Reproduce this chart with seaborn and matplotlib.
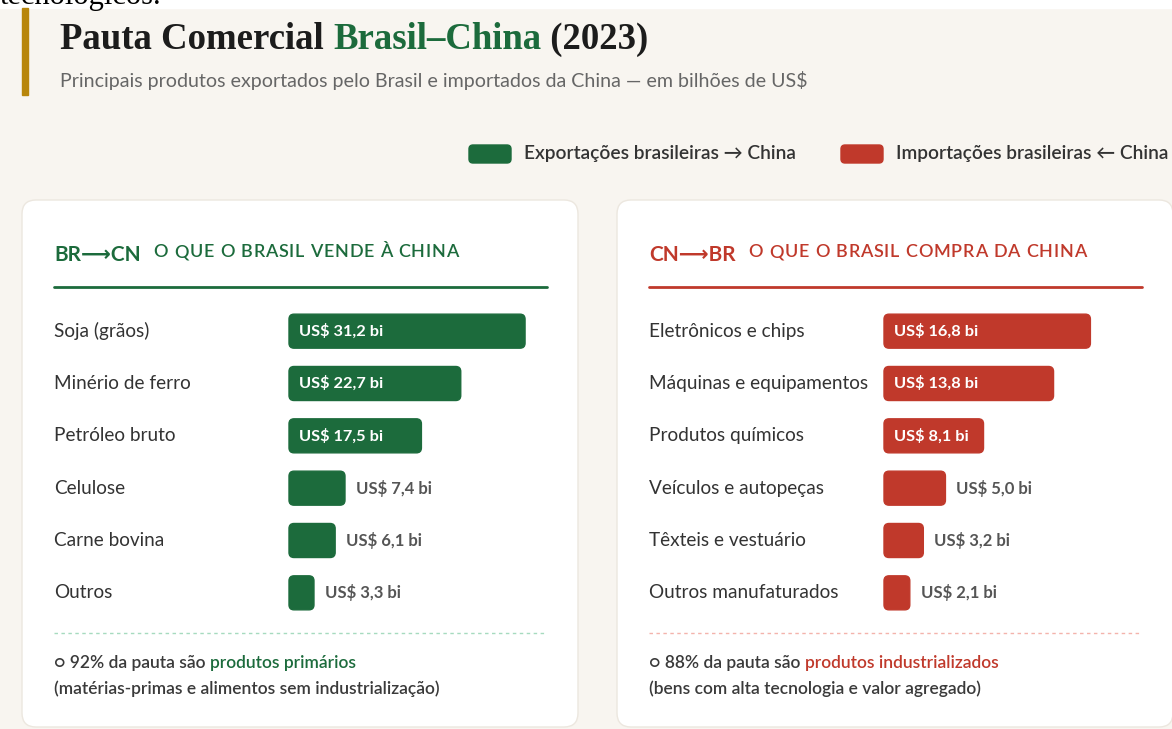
import matplotlib
matplotlib.use("Agg")
import matplotlib.pyplot as plt
import seaborn as sns
from matplotlib.patches import FancyBboxPatch, Rectangle
from matplotlib.lines import Line2D
from matplotlib.transforms import Affine2D

W, H = 1172, 729

# data (US$ bi, 2023)
export_items = ["Soja (grãos)", "Minério de ferro", "Petróleo bruto", "Celulose", "Carne bovina", "Outros"]
export_values = [31.2, 22.7, 17.5, 7.4, 6.1, 3.3]
import_items = ["Eletrônicos e chips", "Máquinas e equipamentos", "Produtos químicos",
                "Veículos e autopeças", "Têxteis e vestuário", "Outros manufaturados"]
import_values = [16.8, 13.8, 8.1, 5.0, 3.2, 2.1]

GREEN = "#1c6b3c"
RED = "#c0392b"
GOLD = "#b8860b"
BG = "#f8f5f0"
DARK = "#1c1c1c"
GRAY = "#555555"
SANS = ["Lato", "DejaVu Sans"]
SERIF = ["Liberation Serif", "DejaVu Serif"]

sns.set_theme(style="white")
plt.rcParams["font.family"] = SANS

fig = plt.figure(figsize=(W / 100, H / 100), dpi=100)
fig.patch.set_facecolor(BG)
# pixel coords, origin top-left
PX = Affine2D().scale(1 / W, -1 / H).translate(0, 1) + fig.transFigure
renderer = fig.canvas.get_renderer()


def txt(x, y, s, **kw):
    kw.setdefault("va", "center")
    t = fig.text(x, y, s, transform=PX, **kw)
    return t


def right_edge(t):
    bb = t.get_window_extent(renderer)
    return PX.inverted().transform([[bb.x1, bb.y0]])[0][0]


def chain(x, y, parts, **kw):
    for s, color in parts:
        t = txt(x, y, s, color=color, **kw)
        x = right_edge(t)
    return x


def spaced(x, y, s, spacing, **kw):
    for ch in s:
        t = txt(x, y, ch, **kw)
        x = right_edge(t) + spacing
    return x


# white strip at top with cut-off text from page above
fig.add_artist(Rectangle((0, 0), W, 8, transform=PX, color="white", zorder=0))
txt(0, 4, "tecnológicos.", family=SERIF, fontsize=22, color="black", va="baseline")

# header
fig.add_artist(Rectangle((22, 8), 6, 87, transform=PX, color=GOLD))
chain(60, 49, [("Pauta Comercial ", DARK), ("Brasil–China", GREEN), (" (2023)", DARK)],
      family=SERIF, fontsize=26.5, fontweight="bold", va="baseline")
txt(60, 80, "Principais produtos exportados pelo Brasil e importados da China — em bilhões de US$",
    fontsize=14.1, color="#666666")

# legend
for x0, color, label in [(469, GREEN, "Exportações brasileiras → China"),
                         (841, RED, "Importações brasileiras ← China")]:
    fig.add_artist(FancyBboxPatch((x0, 145), 42, 18, boxstyle="round,pad=0,rounding_size=4",
                                  transform=PX, color=color))
    txt(x0 + 55, 154, label, fontsize=13.8, fontweight="semibold", color="#333333")

panels = [
    dict(x=22, items=export_items, values=export_values, color=GREEN, light="#a6dbbf",
         tag="BR⟶CN", head="O QUE O BRASIL VENDE À CHINA", xmax=34.1, inside_min=10,
         note=("○ 92% da pauta são ", "produtos primários"),
         note2="(matérias-primas e alimentos sem industrialização)"),
    dict(x=617, items=import_items, values=import_values, color=RED, light="#f4b3ac",
         tag="CN⟶BR", head="O QUE O BRASIL COMPRA DA CHINA", xmax=21.0, inside_min=7,
         note=("○ 88% da pauta são ", "produtos industrializados"),
         note2="(bens com alta tecnologia e valor agregado)"),
]

for p in panels:
    px0 = p["x"]
    fig.add_artist(FancyBboxPatch((px0, 200), 556, 527, boxstyle="round,pad=0,rounding_size=14",
                                  transform=PX, facecolor="white", edgecolor="#ece7df", lw=1))
    lx = px0 + 32
    tag_end = txt(lx, 255, p["tag"], fontsize=15, fontweight="bold", color=p["color"])
    spaced(right_edge(tag_end) + 13, 252, p["head"], 0.8, fontsize=13,
           fontweight="semibold", color=p["color"])
    fig.add_artist(Line2D([lx, lx + 493], [287, 287], transform=PX, color=p["color"], lw=2))

    # bars
    bx = px0 + 267
    ax = fig.add_axes([bx / W, 1 - 619 / H, 258 / W, 314 / H])
    sns.barplot(x=p["values"], y=p["items"], orient="h", ax=ax, color=p["color"],
                width=0.65, saturation=1)
    ax.set_xlim(0, p["xmax"])
    ax.set_ylim(5.5, -0.5)
    ax.set_axis_off()
    ax.patch.set_alpha(0)

    for bar, item, val in zip(list(ax.patches), p["items"], p["values"]):
        (x0, y0), (x1, y1) = PX.inverted().transform(
            ax.transData.transform([[bar.get_x(), bar.get_y()],
                                    [bar.get_x() + bar.get_width(), bar.get_y() + bar.get_height()]]))
        top, bot = min(y0, y1), max(y0, y1)
        bar.set_visible(False)
        fig.add_artist(FancyBboxPatch((x0, top), x1 - x0, bot - top,
                                      boxstyle="round,pad=0,rounding_size=5",
                                      transform=PX, color=p["color"]))
        yc = (top + bot) / 2
        txt(lx, yc, item, fontsize=13.7, color="#333333")
        label = f"US$ {val:.1f} bi".replace(".", ",")
        if val >= p["inside_min"]:
            txt(x0 + 10, yc, label, fontsize=11.8, fontweight="bold", color="white")
        else:
            txt(x1 + 11, yc, label, fontsize=12, fontweight="bold", color=GRAY)

    # footer
    fig.add_artist(Line2D([lx, lx + 493], [633, 633], transform=PX, color=p["light"],
                          lw=1, dashes=(2.5, 2.5)))
    chain(lx, 663, [(p["note"][0], "#3a3a3a"), (p["note"][1], p["color"])],
          fontsize=12.5, fontweight="semibold")
    txt(lx, 689, p["note2"], fontsize=12.5, fontweight="semibold", color="#3a3a3a")

fig.savefig("out.png", dpi=100, facecolor=BG)
